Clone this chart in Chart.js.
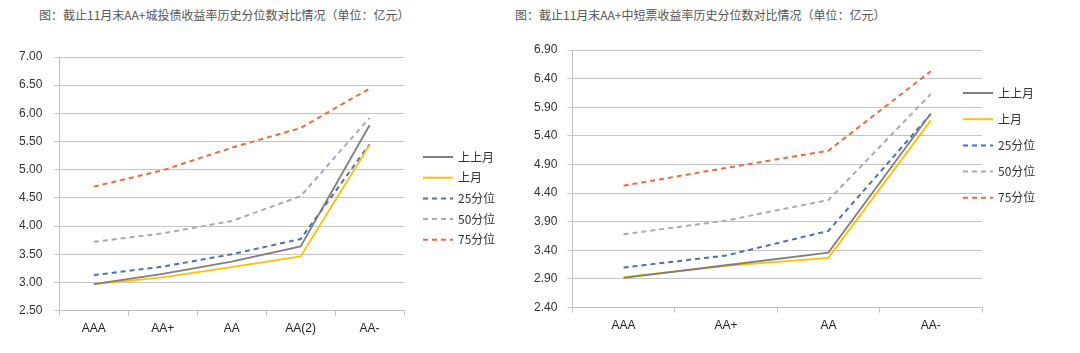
<!DOCTYPE html>
<html>
<head>
<meta charset="utf-8">
<script src="https://cdn.jsdelivr.net/npm/chart.js@4/dist/chart.umd.min.js"></script>
<style>
  body { margin: 0; background: #fff; width: 1080px; height: 353px; overflow: hidden; position: relative; }
  .title { position: absolute; top: 6px; font: 12px "Noto Sans CJK SC", sans-serif; color: #555; white-space: nowrap; }
  .box { position: absolute; top: 0; height: 353px; }
</style>
</head>
<body>
<div class="title" style="left:39px">图：截止11月末AA+城投债收益率历史分位数对比情况（单位：亿元）</div>
<div class="title" style="left:515px">图：截止11月末AA+中短票收益率历史分位数对比情况（单位：亿元）</div>
<div class="box" style="left:0;width:540px"><canvas id="leftChart" width="540" height="353"></canvas></div>
<div class="box" style="left:520px;width:560px"><canvas id="rightChart" width="560" height="353"></canvas></div>

<script>
// series names
const seriesNames = ['上上月', '上月', '25分位', '50分位', '75分位'];

// left: 城投债
const leftLabels = ['AAA', 'AA+', 'AA', 'AA(2)', 'AA-'];
const leftPrev2 = [2.97, 3.15, 3.37, 3.64, 5.79];
const leftPrev1 = [2.97, 3.09, 3.27, 3.46, 5.44];
const left25 = [3.13, 3.28, 3.50, 3.77, 5.45];
const left50 = [3.72, 3.87, 4.09, 4.53, 5.92];
const left75 = [4.70, 4.99, 5.39, 5.74, 6.44];

// right: 中短票
const rightLabels = ['AAA', 'AA+', 'AA', 'AA-'];
const rightPrev2 = [2.92, 3.14, 3.36, 5.79];
const rightPrev1 = [2.93, 3.13, 3.27, 5.67];
const right25 = [3.10, 3.31, 3.74, 5.78];
const right50 = [3.68, 3.92, 4.28, 6.13];
const right75 = [4.53, 4.84, 5.14, 6.53];

const colors = ['#7f7f7f', '#ffc000', '#4a6fbf', '#a8a8c0', '#ec6b3c'];
const dashes = [[], [], [5, 4], [5, 4], [5, 4]];

Chart.defaults.animation = false;
Chart.defaults.font.family = '"Liberation Sans", Arial, sans-serif';
Chart.defaults.font.size = 12;
Chart.defaults.color = '#333';

// draws the legend at a fixed spot
const fixedLegend = {
    id: 'fixedLegend',
    afterDraw(chart, args, opts) {
        const ctx = chart.ctx;
        ctx.save();
        chart.data.datasets.forEach((ds, i) => {
            const y = opts.y + i * opts.gap;
            ctx.beginPath();
            ctx.strokeStyle = ds.borderColor;
            ctx.lineWidth = 2;
            ctx.setLineDash(ds.borderDash);
            ctx.moveTo(opts.x, y);
            ctx.lineTo(opts.x + 30, y);
            ctx.stroke();
            ctx.setLineDash([]);
            ctx.fillStyle = '#333';
            ctx.font = '12px "Noto Sans CJK SC", sans-serif';
            ctx.textBaseline = 'middle';
            ctx.fillText(ds.label, opts.x + 35, y);
        });
        ctx.restore();
    }
};

function makeChart(id, labels, series, yMin, yMax, pad, tickPad, legend) {
    const ctx = document.getElementById(id).getContext('2d');
    return new Chart(ctx, {
        type: 'line',
        data: {
            labels: labels,
            datasets: series.map((data, i) => ({
                label: seriesNames[i],
                data: data,
                borderColor: colors[i],
                borderWidth: i < 2 ? 1.8 : 2,
                borderDash: dashes[i],
                pointRadius: 0,
                tension: 0,
                fill: false,
                order: i
            }))
        },
        options: {
            responsive: false,
            layout: { padding: pad },
            plugins: { legend: { display: false }, tooltip: { enabled: false }, fixedLegend: legend },
            scales: {
                x: {
                    offset: true,
                    grid: { offset: true, drawOnChartArea: false, tickLength: 5, color: '#bfbfbf' },
                    border: { color: '#bfbfbf' },
                    ticks: { padding: 6, color: '#222' }
                },
                y: {
                    min: yMin,
                    max: yMax,
                    afterBuildTicks: s => {
                        s.ticks = [];
                        for (let v = yMin; v <= yMax + 1e-9; v += 0.5) s.ticks.push({ value: +v.toFixed(2) });
                    },
                    grid: { color: '#c4c4c4', tickLength: 5 },
                    border: { color: '#bfbfbf' },
                    ticks: { padding: tickPad, color: '#333', callback: v => Number(v).toFixed(2) }
                }
            }
        },
        plugins: [fixedLegend]
    });
}

makeChart('leftChart', leftLabels, [leftPrev2, leftPrev1, left25, left50, left75],
    2.5, 7.0, { left: 7, right: 136, top: 57, bottom: 11 }, 12,
    { x: 423, y: 157, gap: 20.7 });

makeChart('rightChart', rightLabels, [rightPrev2, rightPrev1, right25, right50, right75],
    2.4, 6.9, { left: 4, right: 98, top: 50, bottom: 14 }, 10,
    { x: 443, y: 93, gap: 26.2 });
</script>
</body>
</html>
